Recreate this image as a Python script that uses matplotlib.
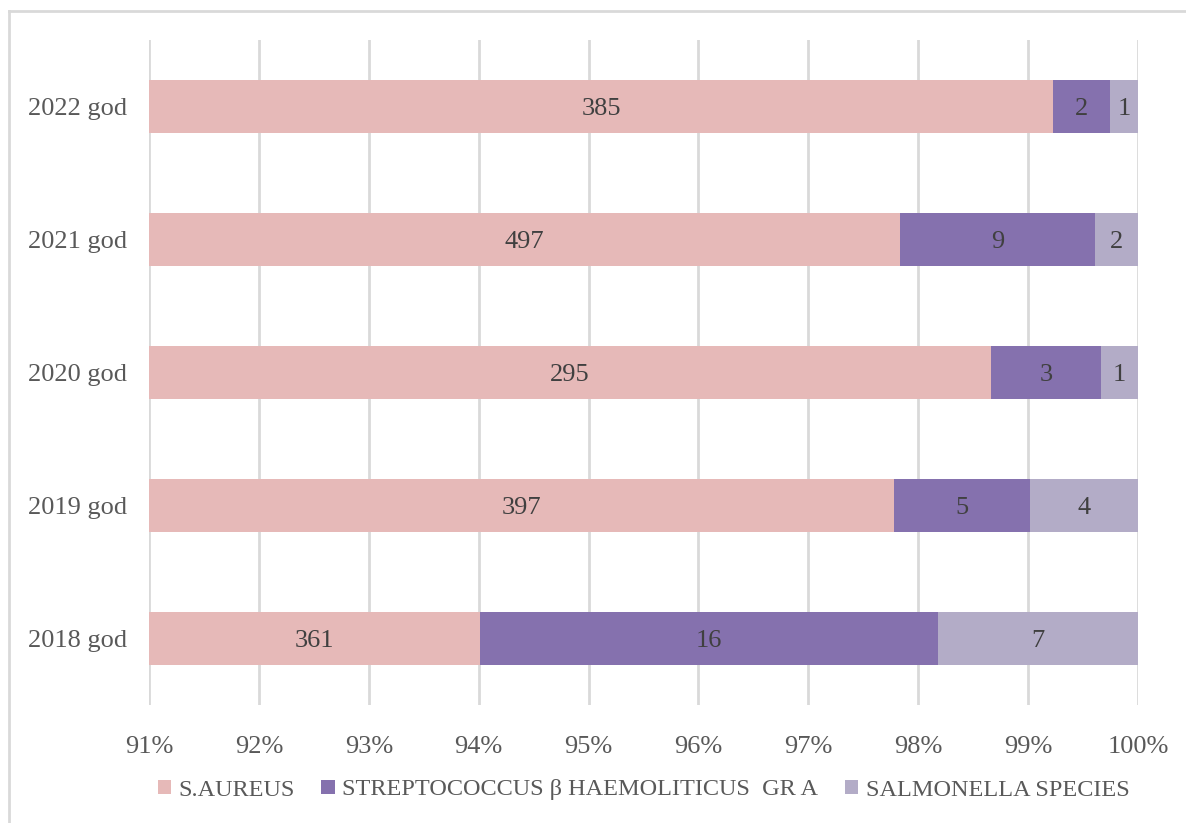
import numpy as np
import matplotlib.pyplot as plt
from matplotlib.lines import Line2D
from matplotlib.ticker import FuncFormatter

plt.rcParams['font.family'] = ['Liberation Serif', 'DejaVu Serif']

years = ["2018 god", "2019 god", "2020 god", "2021 god", "2022 god"]
series = ["S.AUREUS", "STREPTOCOCCUS β HAEMOLITICUS  GR A", "SALMONELLA SPECIES"]
s_aureus = [361, 397, 295, 497, 385]
strepto = [16, 5, 3, 9, 2]
salmonella = [7, 4, 1, 2, 1]
colors = ["#E6B9B8", "#8571AE", "#B3ACC7"]

counts = np.array([s_aureus, strepto, salmonella], dtype=float)
shares = counts / counts.sum(axis=0)

fig = plt.figure(figsize=(11.86, 8.23), dpi=100)
ax = fig.add_axes([149/1186, 1 - 705/823, (1138 - 149)/1186, (705 - 40)/823])

y = np.arange(len(years))
left = np.zeros(len(years))
for vals, sh, name, col in zip(counts, shares, series, colors):
    bars = ax.barh(y, sh, left=left, height=0.4, color=col, label=name, zorder=2)
    for b, v, l, w in zip(bars, vals, left, sh):
        # label centred in the visible part of the segment
        x0 = max(l, 0.91)
        ax.text((x0 + l + w) / 2, b.get_y() + b.get_height() / 2, f"{int(v)}",
                ha="center", va="center_baseline", fontsize=19, color="#404040", zorder=3)
    left += sh

ax.set_xlim(0.91, 1.0)
ax.set_ylim(-0.5, 4.5)
ax.set_xticks(np.linspace(0.91, 1.0, 10))
ax.xaxis.set_major_formatter(FuncFormatter(lambda v, p: f"{v*100:.0f}%"))
ax.set_yticks(y)
ax.set_yticklabels(years)
ax.tick_params(length=0, labelsize=19, colors="#595959")
ax.tick_params(axis="x", pad=22)
ax.tick_params(axis="y", pad=16)
ax.grid(axis="x", color="#D9D9D9", linewidth=2, zorder=0)
ax.set_axisbelow(True)
for s in ax.spines.values():
    s.set_visible(False)

ax.legend(loc="center", bbox_to_anchor=(0.5, 1 - 790/823),
          bbox_transform=ax.get_xaxis_transform() + fig.transFigure - fig.transFigure,
          ncol=3, frameon=False, fontsize=17.5, handlelength=0.55, handleheight=0.55,
          handletextpad=0.3, columnspacing=1.1, labelcolor="#595959")
leg = ax.get_legend()
leg.set_bbox_to_anchor((643.5/1186, 1 - 790/823), transform=fig.transFigure)

# outer chart frame
fig.add_artist(Line2D([9/1186, 9/1186], [0, 1 - 11/823], color="#D9D9D9", lw=2))
fig.add_artist(Line2D([9/1186, 1], [1 - 11/823, 1 - 11/823], color="#D9D9D9", lw=2))

fig.savefig("out.png", dpi=100)
